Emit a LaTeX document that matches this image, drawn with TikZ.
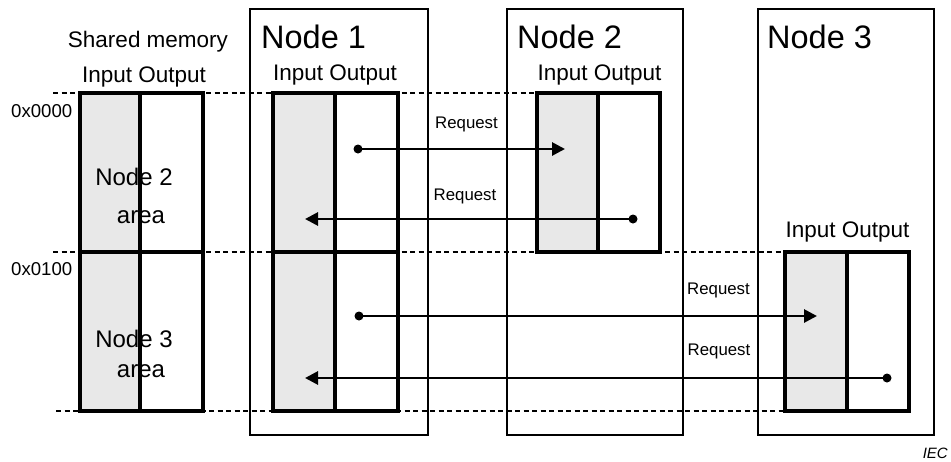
\documentclass[tikz,border=0pt]{standalone}
\usepackage{fontspec}
\setmainfont{Liberation Sans}
\usetikzlibrary{arrows.meta}
\definecolor{memgray}{HTML}{E8E8E8}
\tikzset{
 container/.style={draw=black, line width=1.9pt},
 membox/.style={draw=black, line width=3.3pt},
 guide/.style={dash pattern=on 5pt off 3.5pt, line width=1.8pt},
 req/.style={line width=2.8pt, -{Triangle[length=13pt,width=13pt]}},
 dotstart/.style={circle, fill=black, inner sep=0pt, minimum size=9pt},
 title/.style={anchor=base west, font=\fontsize{32.5}{38}\selectfont, inner sep=0pt},
 io/.style={anchor=base, font=\fontsize{22.5}{26}\selectfont, inner sep=0pt},
 lbl/.style={anchor=base, font=\fontsize{16.8}{20}\selectfont, inner sep=0pt},
 addr/.style={anchor=base west, font=\fontsize{18.6}{22}\selectfont, inner sep=0pt},
 area/.style={anchor=base, font=\fontsize{24}{28}\selectfont, inner sep=0pt},
}
\begin{document}
\begin{tikzpicture}[x=1pt,y=-1pt]
\useasboundingbox (0,0) rectangle (951,461);
% guide lines
\draw[guide] (53,93) -- (537,93);
\draw[guide] (53,252) -- (785,252);
\draw[guide] (56,411) -- (785,411);
% containers
\draw[container] (250,9) rectangle (428,435);
\draw[container] (507,9) rectangle (683,435);
\draw[container] (758,9) rectangle (934,435);
% shared memory
\fill[memgray] (80,93) rectangle (140,411);
\draw[membox] (80,93) rectangle (203,411);
\draw[membox] (140,93) -- (140,411);
\draw[membox] (80,252) -- (203,252);
% node 1 memory
\fill[memgray] (273,93) rectangle (335,411);
\draw[membox] (273,93) rectangle (398,411);
\draw[membox] (335,93) -- (335,411);
\draw[membox] (273,252) -- (398,252);
% node 2 memory
\fill[memgray] (537,93) rectangle (598,252);
\draw[membox] (537,93) rectangle (660,252);
\draw[membox] (598,93) -- (598,252);
% node 3 memory
\fill[memgray] (785,252) rectangle (847,411);
\draw[membox] (785,252) rectangle (909,411);
\draw[membox] (847,252) -- (847,411);
% texts
\node[io] (smt) at (148,47) {Shared memory};
\node[io] (smio) at (144,82) {Input Output};
\node[addr] (a0) at (11,117) {0x0000};
\node[addr] (a1) at (11,275) {0x0100};
\node[area] (n2a) at (134,185) {Node 2};
\node[area] (n2b) at (141,223) {area};
\node[area] (n3a) at (134,347) {Node 3};
\node[area] (n3b) at (141,377) {area};
\node[title] (t1) at (261,48) {Node 1};
\node[title] (t2) at (517,48) {Node 2};
\node[title] (t3) at (767,48) {Node 3};
\node[io] (io1) at (335,80) {Input Output};
\node[io] (io2) at (599.5,80) {Input Output};
\node[io] (io3) at (847.5,237) {Input Output};
\node[lbl] (r1) at (466.5,128) {Request};
\node[lbl] (r2) at (465,200) {Request};
\node[lbl] (r3) at (718.5,294) {Request};
\node[lbl] (r4) at (719,355) {Request};
\node[anchor=base east, font=\fontsize{15}{17}\selectfont\itshape, inner sep=0pt] (iec) at (948,458) {IEC};
% arrows
\node[dotstart] (d1) at (358,149) {};
\coordinate (e1) at (565,149);
\node[dotstart] (d2) at (633,219) {};
\coordinate (e2) at (305,219);
\node[dotstart] (d3) at (359,316) {};
\coordinate (e3) at (817,316);
\node[dotstart] (d4) at (887,378) {};
\coordinate (e4) at (305,378);
\draw[req] (d1.center) -- (e1);
\draw[req] (d2.center) -- (e2);
\draw[req] (d3.center) -- (e3);
\draw[req] (d4.center) -- (e4);
\end{tikzpicture}
\end{document}
